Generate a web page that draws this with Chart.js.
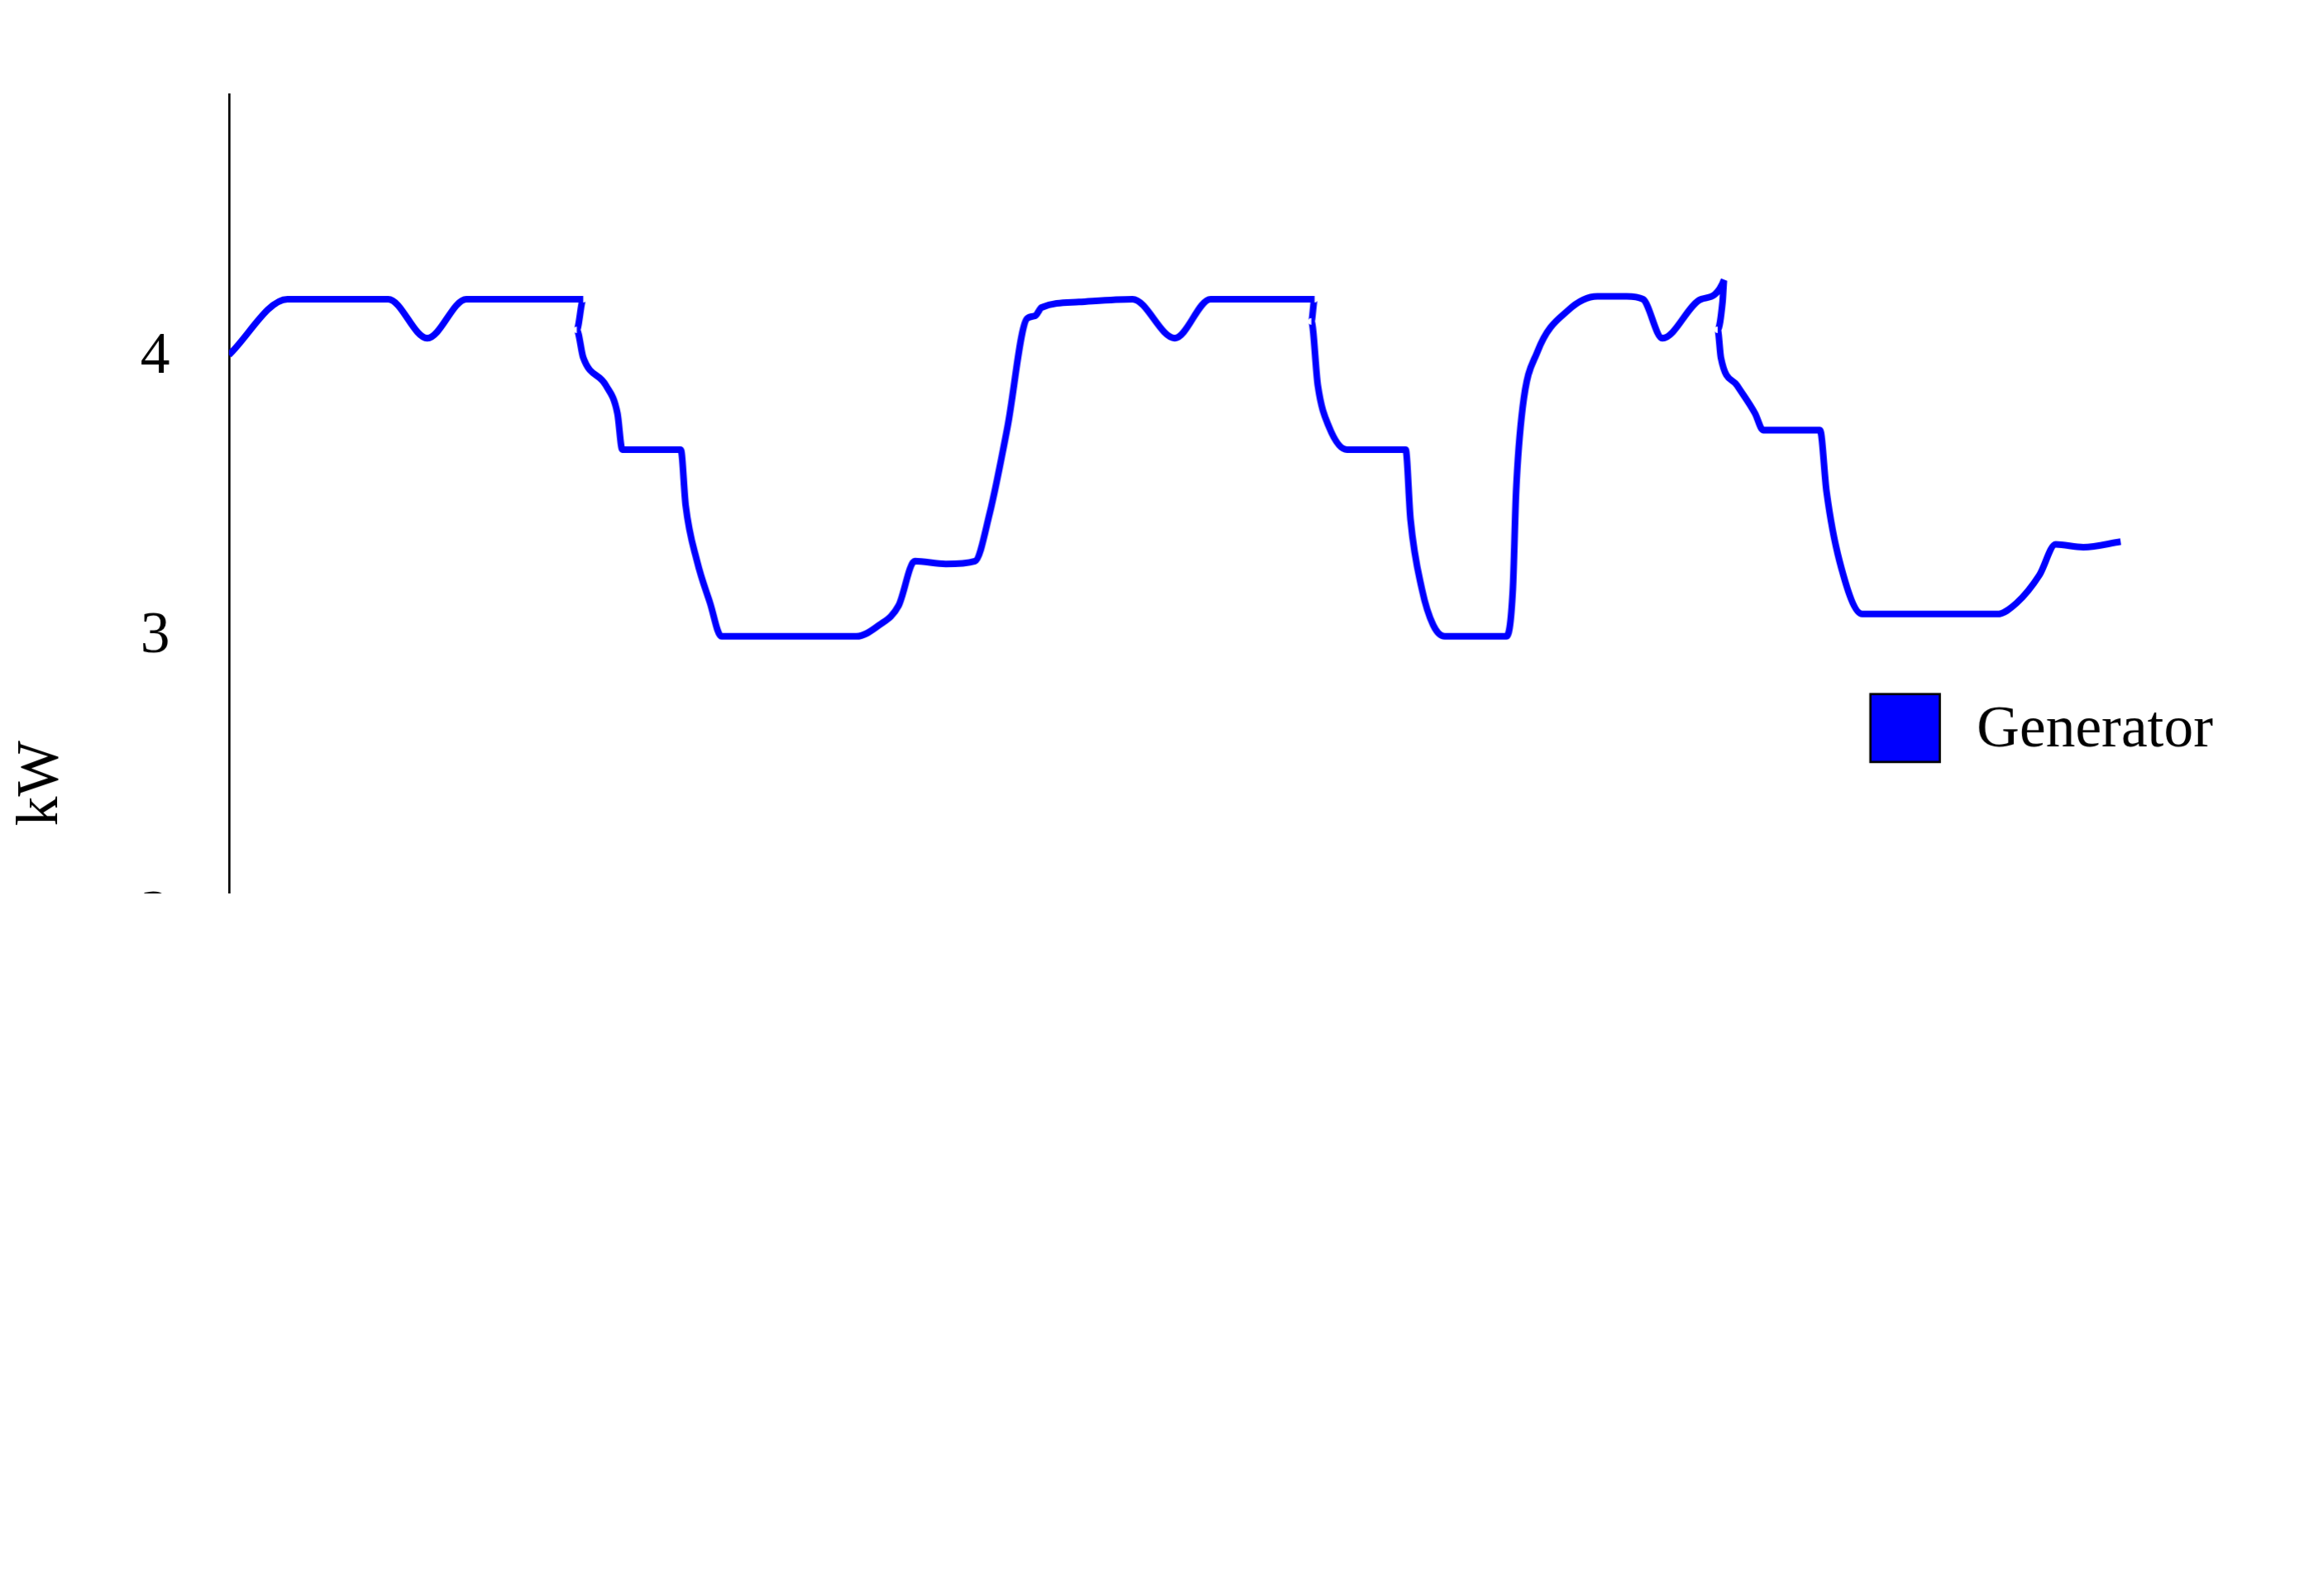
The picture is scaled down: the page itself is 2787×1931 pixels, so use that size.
<!DOCTYPE html>
<html>
<head>
<meta charset="utf-8">
<script src="https://cdn.jsdelivr.net/npm/chart.js@4.4.0/dist/chart.umd.min.js"></script>
<style>
  html, body { margin: 0; padding: 0; background: #fff; overflow: hidden; }
  #wrap { width: 1560px; height: 1081px; transform: scale(1.7865); transform-origin: 0 0; }
</style>
</head>
<body>
<div id="wrap"><canvas id="chart"></canvas></div>
<script>
// hours since Aug 05 00:00 and generator output in kW
const hours = [0, 1.8, 4.9, 6.1, 7.3, 10.9, 10.7, 10.9, 11.6, 11.95, 12.1, 13.9, 14.05, 14.4, 14.8, 15.15,
  19.3, 20.0, 20.6, 21.1, 22.05, 22.95, 23.4, 23.95, 24.55, 24.8, 25.0, 26.15, 27.8, 29.1, 30.2, 33.4,
  33.3, 33.5, 33.85, 34.4, 36.2, 36.35, 36.7, 37.05, 37.4, 39.3, 39.5, 39.6, 39.8, 40.25, 41.2, 42.1,
  43.0, 43.5, 44.1, 45.3, 46.0, 45.95, 45.8, 45.9, 46.4, 46.95, 47.2, 48.95, 49.15, 49.55, 50.25,
  54.4, 55.0, 55.7, 56.2, 57.05, 58.2];
const kw = [4.01, 4.21, 4.21, 4.07, 4.21, 4.21, 4.10, 4.0, 3.9, 3.8, 3.67, 3.67, 3.47, 3.27, 3.12, 3.0,
  3.0, 3.04, 3.11, 3.27, 3.26, 3.27, 3.44, 3.75, 4.14, 4.15, 4.18, 4.20, 4.21, 4.07, 4.21, 4.21,
  4.13, 3.90, 3.75, 3.67, 3.67, 3.42, 3.17, 3.04, 3.0, 3.0, 3.17, 3.52, 3.82, 4.02, 4.17, 4.22,
  4.22, 4.21, 4.07, 4.21, 4.28, 4.20, 4.10, 4.0, 3.9, 3.8, 3.74, 3.74, 3.52, 3.27, 3.08,
  3.08, 3.12, 3.22, 3.33, 3.32, 3.34];
const xTickHours = [2, 26, 44.3];
const xTickLabels = ["Aug 05", "Aug 06", "Aug 07"];
const yTicks = [0, 1, 2, 3, 4];

const points = hours.map((h, i) => ({ x: h, y: kw[i] }));

const legendPlugin = {
  id: "sideLegend",
  afterDraw(chart) {
    const c = chart.ctx;
    c.save();
    c.fillStyle = "#0000ff";
    c.strokeStyle = "#000";
    c.lineWidth = 1.5;
    c.fillRect(1266, 470, 47, 46);
    c.strokeRect(1266, 470, 47, 46);
    c.fillStyle = "#000";
    c.font = "40px 'Liberation Serif'";
    c.textBaseline = "middle";
    c.fillText("Generator", 1338, 495);
    c.restore();
  }
};

new Chart(document.getElementById("chart").getContext("2d"), {
  type: "line",
  data: {
    datasets: [{
      label: "Generator",
      data: points,
      borderColor: "#0000ff",
      borderWidth: 4.5,
      pointRadius: 0,
      cubicInterpolationMode: "monotone",
      fill: false
    }]
  },
  options: {
    animation: false,
    responsive: true,
    maintainAspectRatio: false,
    devicePixelRatio: 1.7865,
    layout: { padding: { left: 0, top: 18, right: 10, bottom: 0 } },
    plugins: { legend: { display: false }, tooltip: { enabled: false } },
    scales: {
      x: {
        type: "linear",
        min: 0,
        max: (1550 - 155) / 22,
        grid: { display: false, drawTicks: false },
        border: { display: true, color: "#000", width: 1.5 },
        afterBuildTicks: s => { s.ticks = xTickHours.map(v => ({ value: v })); },
        afterFit: s => { s.height = 84; },
        ticks: {
          autoSkip: false,
          maxRotation: 0,
          padding: 28,
          color: "#000",
          font: { family: "Liberation Serif", size: 40 },
          callback: (v, i) => xTickLabels[i]
        }
      },
      y: {
        min: 0,
        max: (997 - 18) / 198,
        grid: { display: false, drawTicks: false },
        border: { display: true, color: "#000", width: 1.5 },
        afterBuildTicks: s => { s.ticks = yTicks.map(v => ({ value: v })); },
        afterFit: s => { s.width = 155; },
        title: {
          display: true,
          text: "kW",
          color: "#000",
          font: { family: "Liberation Serif", size: 40 },
          padding: { bottom: 20 }
        },
        ticks: {
          padding: 40,
          color: "#000",
          font: { family: "Liberation Serif", size: 40 }
        }
      }
    }
  },
  plugins: [legendPlugin]
});
</script>
</body>
</html>
